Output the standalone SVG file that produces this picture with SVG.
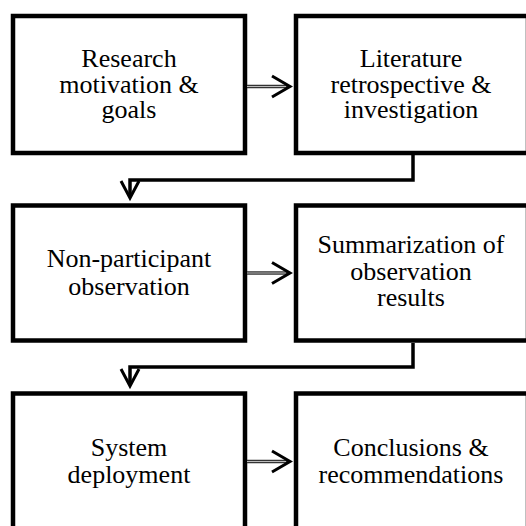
<svg xmlns="http://www.w3.org/2000/svg" width="526" height="526" viewBox="0 0 526 526">
<style>
.box{fill:#fff;stroke:#000;stroke-width:4.5}
.t{font-family:"Liberation Serif","Times New Roman",serif;font-size:26px;fill:#000;text-anchor:middle}
.sh{stroke:#333;stroke-width:3.5;fill:none}
.shi{stroke:#bbb;stroke-width:1.2;fill:none}
.hd{stroke:#000;stroke-width:3;fill:none;stroke-linejoin:miter}
.ln{stroke:#000;stroke-width:3.5;fill:none}
</style>
<rect width="526" height="526" fill="#fff"/>
<g id="n1"><rect class="box" x="13" y="16" width="232" height="137"/>
<text class="t" x="129" y="67">Research</text><text class="t" x="129" y="93">motivation &amp;</text><text class="t" x="129" y="118">goals</text></g>
<g id="n2"><rect class="box" x="296" y="16" width="232" height="137"/>
<text class="t" x="411" y="67">Literature</text><text class="t" x="411" y="93">retrospective &amp;</text><text class="t" x="411" y="118">investigation</text></g>
<g id="n3"><rect class="box" x="13" y="205.5" width="232" height="135"/>
<text class="t" x="129" y="267">Non-participant</text><text class="t" x="129" y="295">observation</text></g>
<g id="n4"><rect class="box" x="296" y="205.5" width="232" height="135"/>
<text class="t" x="411" y="253">Summarization of</text><text class="t" x="411" y="280">observation</text><text class="t" x="411" y="306">results</text></g>
<g id="n5"><rect class="box" x="13" y="393.5" width="232" height="137"/>
<text class="t" x="129" y="456">System</text><text class="t" x="129" y="483">deployment</text></g>
<g id="n6"><rect class="box" x="296" y="393.5" width="232" height="137"/>
<text class="t" x="411" y="456">Conclusions &amp;</text><text class="t" x="411" y="483">recommendations</text></g>
<g id="connectors">
<line class="sh" x1="247" y1="86.5" x2="288" y2="86.5"/><line class="shi" x1="247" y1="86.5" x2="286" y2="86.5"/>
<polyline class="hd" points="272,76 290,86.5 272,97"/>
<line class="sh" x1="247" y1="273" x2="288" y2="273"/><line class="shi" x1="247" y1="273" x2="286" y2="273"/>
<polyline class="hd" points="272,262.5 290,273 272,283.5"/>
<line class="sh" x1="247" y1="461.5" x2="288" y2="461.5"/><line class="shi" x1="247" y1="461.5" x2="286" y2="461.5"/>
<polyline class="hd" points="272,451 290,461.5 272,472"/>
<path class="ln" d="M413,155 V180 H130 V197"/>
<polyline class="hd" points="121,181 130,198 139,181"/>
<path class="ln" d="M413,343 V367 H130 V385"/>
<polyline class="hd" points="121,369 130,386 139,369"/>
</g>
</svg>
